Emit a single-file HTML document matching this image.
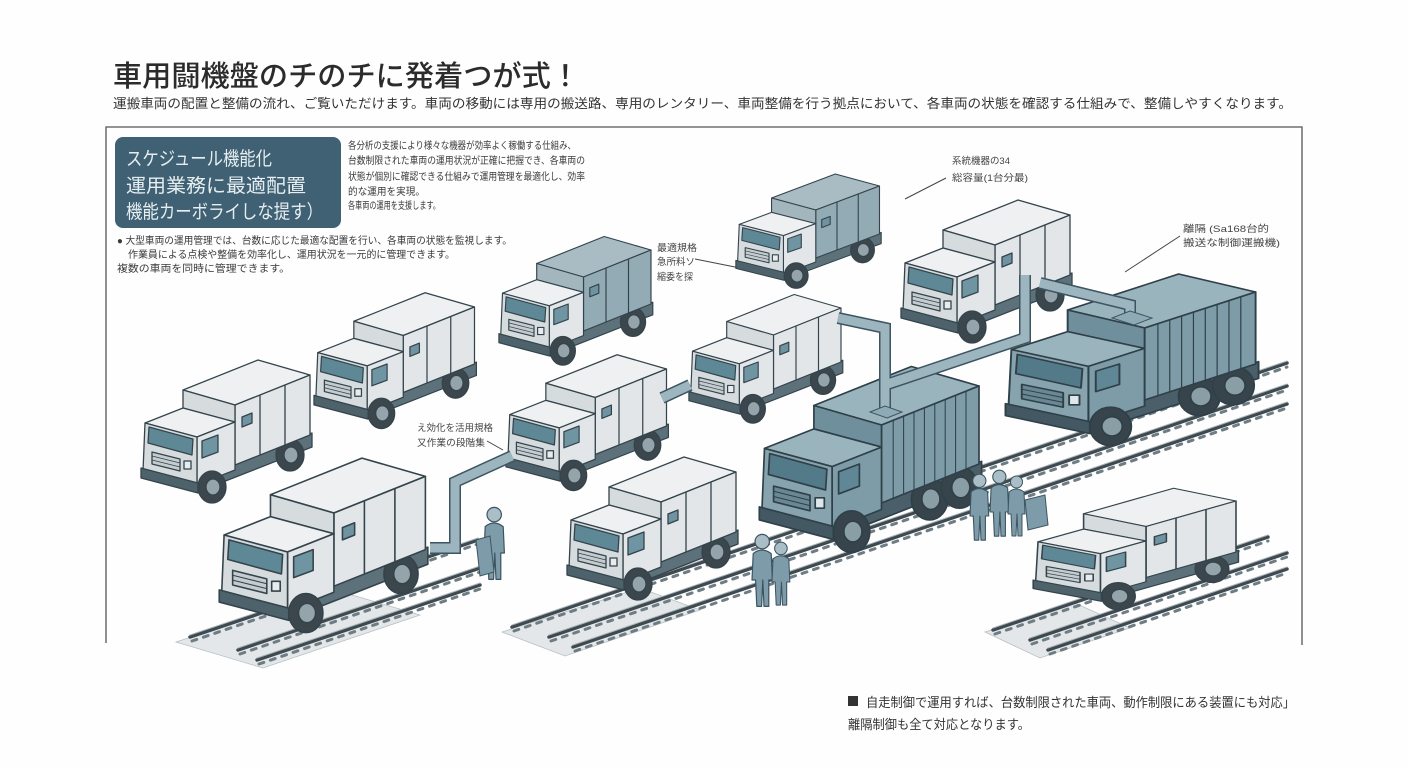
<!DOCTYPE html>
<html><head><meta charset="utf-8"><style>
html,body{margin:0;padding:0;background:#fff;}
svg{display:block;}
text{font-family:"Liberation Sans","Noto Sans CJK JP",sans-serif;}
</style></head><body>
<svg width="1408" height="768" viewBox="0 0 1408 768" xmlns="http://www.w3.org/2000/svg">
<defs>
<symbol id="lt" overflow="visible">
 <g stroke="#34444c" stroke-width="1.3" stroke-linejoin="round">
  <polygon points="60,122 172,78 172,92 60,136" fill="#5d717a"/>
  <ellipse cx="150" cy="100" rx="14" ry="16" fill="#3b464d"/>
  <ellipse cx="151" cy="100" rx="7" ry="8" fill="#95a4ab"/>
  <polygon points="43,35 118,5 170,20 95,50" style="fill:var(--top)"/>
  <polygon points="95,50 170,20 170,80 95,110" style="fill:var(--side)"/>
  <polygon points="43,35 95,50 95,67 43,53" style="fill:var(--front)"/>
  <line x1="120" y1="40" x2="120" y2="100"/>
  <line x1="145" y1="30" x2="145" y2="90"/>
  <polygon points="102,62 112,58 112,68 102,72" fill="#6f93a0"/>
  <polygon points="5,68 43,53 95,67 57,82" fill="#eef0f1"/>
  <polygon points="57,82 95,67 95,115 57,130" fill="#e3e6e8"/>
  <polygon points="5,68 57,82 57,130 3,116" fill="#d6dbde"/>
  <polygon points="9,72 53,84 52,100 8,88" fill="#5f8896"/>
  <polygon points="62,86 78,80 78,97 62,103" fill="#6f95a3"/>
  <polygon points="12,97 40,104 40,116 12,109" fill="#c5ccd0"/>
  <line x1="12" y1="101" x2="40" y2="108" stroke-width="0.8"/>
  <line x1="12" y1="105" x2="40" y2="112" stroke-width="0.8"/>
  <rect x="44" y="106" width="7" height="8" fill="#e8ecee"/>
  <polygon points="1,113 58,128 58,138 1,123" fill="#4d626b"/>
  <ellipse cx="72" cy="132" rx="14" ry="16" fill="#3b464d"/>
  <ellipse cx="73" cy="132" rx="7" ry="8" fill="#95a4ab"/>
 </g>
</symbol>
<symbol id="bt" overflow="visible">
 <g stroke="#2f4049" stroke-width="1.3" stroke-linejoin="round">
  <polygon points="60,122 172,78 172,92 60,136" fill="#4a5f69"/>
  <ellipse cx="132" cy="107" rx="14" ry="16" fill="#38444b"/>
  <ellipse cx="133" cy="107" rx="7" ry="8" fill="#8a9ea6"/>
  <ellipse cx="155" cy="98" rx="14" ry="16" fill="#38444b"/>
  <ellipse cx="156" cy="98" rx="7" ry="8" fill="#8a9ea6"/>
  <polygon points="43,35 118,5 170,20 95,50" fill="#9ab4be"/>
  <polygon points="95,50 170,20 170,80 95,110" fill="#7d9ca8"/>
  <polygon points="43,35 95,50 95,67 43,53" fill="#6f8f9c"/>
  <g stroke-width="0.8">
   <line x1="104" y1="46" x2="104" y2="106"/><line x1="112" y1="43" x2="112" y2="103"/>
   <line x1="120" y1="40" x2="120" y2="100"/><line x1="128" y1="37" x2="128" y2="97"/>
   <line x1="136" y1="34" x2="136" y2="94"/><line x1="144" y1="30" x2="144" y2="90"/>
   <line x1="152" y1="27" x2="152" y2="87"/><line x1="160" y1="24" x2="160" y2="84"/>
  </g>
  <polygon points="5,68 43,53 95,67 57,82" fill="#9ab4be"/>
  <polygon points="57,82 95,67 95,115 57,130" fill="#7d9ca8"/>
  <polygon points="5,68 57,82 57,130 3,116" fill="#87a3ae"/>
  <polygon points="9,72 53,84 52,100 8,88" fill="#527a89"/>
  <polygon points="62,86 78,80 78,97 62,103" fill="#5f8795"/>
  <polygon points="12,97 40,104 40,116 12,109" fill="#6a8894"/>
  <line x1="12" y1="101" x2="40" y2="108" stroke-width="0.8"/>
  <line x1="12" y1="105" x2="40" y2="112" stroke-width="0.8"/>
  <rect x="44" y="106" width="7" height="8" fill="#dfe7ea"/>
  <polygon points="1,113 58,128 58,138 1,123" fill="#435862"/>
  <ellipse cx="72" cy="132" rx="14" ry="16" fill="#38444b"/>
  <ellipse cx="73" cy="132" rx="7" ry="8" fill="#8a9ea6"/>
 </g>
</symbol>
<symbol id="ps" overflow="visible">
 <g stroke="#3d5561" stroke-width="1" fill="#7d9ba8" stroke-linejoin="round">
  <path d="M1,18 Q8,12 16,18 L17,40 L14,40 L14,62 L10,62 L9,40 L8,62 L4,62 L3,40 L0,40 Z"/>
  <circle cx="8.5" cy="8" r="6" fill="#a9bec6"/>
 </g>
</symbol>
</defs>

<rect width="1408" height="768" fill="#fefefe"/>

<!-- header -->
<text x="113" y="86" font-size="29" font-weight="500" fill="#2b2b2b" textLength="467" lengthAdjust="spacingAndGlyphs">車用闘機盤のチのチに発着つが式！</text>
<text x="113" y="108" font-size="13" fill="#333" textLength="1179" lengthAdjust="spacingAndGlyphs">運搬車両の配置と整備の流れ、ご覧いただけます。車両の移動には専用の搬送路、専用のレンタリー、車両整備を行う拠点において、各車両の状態を確認する仕組みで、整備しやすくなります。</text>

<!-- frame -->
<polyline points="106,643 106,127 1302,127 1302,645" fill="none" stroke="#555" stroke-width="1.3"/>

<!-- dark box -->
<rect x="115" y="137" width="226" height="91" rx="8" fill="#3f6173"/>
<text x="126" y="165" font-size="19" fill="#e6eef1" textLength="146" lengthAdjust="spacingAndGlyphs">スケジュール機能化</text>
<text x="126" y="192" font-size="19" fill="#e6eef1" textLength="180" lengthAdjust="spacingAndGlyphs">運用業務に最適配置</text>
<text x="126" y="218" font-size="19" fill="#e6eef1" textLength="197" lengthAdjust="spacingAndGlyphs">機能カーボライしな提す）</text>

<g font-size="10" fill="#3a3a3a">
<text x="348" y="149" textLength="228" lengthAdjust="spacingAndGlyphs">各分析の支援により様々な機器が効率よく稼働する仕組み、</text>
<text x="348" y="164" textLength="237" lengthAdjust="spacingAndGlyphs">台数制限された車両の運用状況が正確に把握でき、各車両の</text>
<text x="348" y="180" textLength="237" lengthAdjust="spacingAndGlyphs">状態が個別に確認できる仕組みで運用管理を最適化し、効率</text>
<text x="348" y="195" textLength="77" lengthAdjust="spacingAndGlyphs">的な運用を実現。</text>
<text x="348" y="209" textLength="92" lengthAdjust="spacingAndGlyphs">各車両の運用を支援します。</text>
<text x="117" y="244" textLength="395" lengthAdjust="spacingAndGlyphs">● 大型車両の運用管理では、台数に応じた最適な配置を行い、各車両の状態を監視します。</text>
<text x="128" y="258" textLength="327" lengthAdjust="spacingAndGlyphs">作業員による点検や整備を効率化し、運用状況を一元的に管理できます。</text>
<text x="117" y="272" textLength="173" lengthAdjust="spacingAndGlyphs">複数の車両を同時に管理できます。</text>
</g>

<!-- labels -->
<g font-size="9.5" fill="#444">
<text x="952" y="164" textLength="58" lengthAdjust="spacingAndGlyphs">系統機器の34</text>
<text x="952" y="181" textLength="76" lengthAdjust="spacingAndGlyphs">総容量(1台分最)</text>
<text x="1183" y="232" textLength="86" lengthAdjust="spacingAndGlyphs">離隔 (Sa168台的</text>
<text x="1183" y="246" textLength="97" lengthAdjust="spacingAndGlyphs">搬送な制御運搬機)</text>
<text x="657" y="251" textLength="40" lengthAdjust="spacingAndGlyphs">最適規格</text>
<text x="657" y="265" textLength="38" lengthAdjust="spacingAndGlyphs">急所料ソ</text>
<text x="657" y="280" textLength="36" lengthAdjust="spacingAndGlyphs">縮委を探</text>
<text x="417" y="431" textLength="76" lengthAdjust="spacingAndGlyphs">え効化を活用規格</text>
<text x="417" y="446" textLength="68" lengthAdjust="spacingAndGlyphs">又作業の段階集</text>
</g>
<g stroke="#444" stroke-width="1" fill="none">
<line x1="946" y1="178" x2="905" y2="199"/>
<line x1="1180" y1="236" x2="1125" y2="272"/>
<line x1="695" y1="259" x2="740" y2="268"/>
<line x1="487" y1="441" x2="503" y2="450"/>
</g>

<!-- bottom note -->
<rect x="848" y="696" width="10" height="10" fill="#333"/>
<text x="866" y="707" font-size="13" fill="#333" textLength="429" lengthAdjust="spacingAndGlyphs">自走制御で運用すれば、台数制限された車両、動作制限にある装置にも対応」</text>
<text x="848" y="729" font-size="13" fill="#333" textLength="182" lengthAdjust="spacingAndGlyphs">離隔制御も全て対応となります。</text>

<!-- ground plates -->
<g fill="#e3e7e9" stroke="#b8c0c4" stroke-width="0.8">
<polygon points="176,642 263,668 420,615 335,590"/>
<polygon points="502,632 565,656 700,610 640,588"/>
<polygon points="985,632 1040,658 1130,628 1075,603"/>
</g>

<!-- rails -->
<g stroke-linecap="round">
 <g stroke="#6e7c84" stroke-width="3" stroke-dasharray="5 7">
  <line x1="192" y1="641" x2="478" y2="544"/>
  <line x1="240" y1="654" x2="480" y2="572"/>
  <line x1="259" y1="664" x2="480" y2="589"/>
  <line x1="514" y1="631" x2="1287" y2="367"/>
  <line x1="551" y1="641" x2="1287" y2="390"/>
  <line x1="575" y1="651" x2="1287" y2="408"/>
  <line x1="995" y1="634" x2="1268" y2="541"/>
  <line x1="1032" y1="644" x2="1287" y2="557"/>
  <line x1="1050" y1="654" x2="1287" y2="573"/>
 </g>
 <g stroke="#3f4a50" stroke-width="3.5">
  <line x1="190" y1="637" x2="478" y2="540"/>
  <line x1="238" y1="650" x2="480" y2="568"/>
  <line x1="257" y1="660" x2="480" y2="585"/>
  <line x1="512" y1="627" x2="1287" y2="363"/>
  <line x1="549" y1="637" x2="1287" y2="386"/>
  <line x1="573" y1="647" x2="1287" y2="404"/>
  <line x1="993" y1="630" x2="1268" y2="537"/>
  <line x1="1030" y1="640" x2="1287" y2="553"/>
  <line x1="1048" y1="650" x2="1287" y2="569"/>
 </g>
 <g stroke="#a9b3b8" stroke-width="1">
  <line x1="190" y1="635" x2="478" y2="538"/>
  <line x1="238" y1="648" x2="480" y2="566"/>
  <line x1="257" y1="658" x2="480" y2="583"/>
  <line x1="512" y1="625" x2="1287" y2="361"/>
  <line x1="549" y1="635" x2="1287" y2="384"/>
  <line x1="573" y1="645" x2="1287" y2="402"/>
  <line x1="993" y1="628" x2="1268" y2="535"/>
  <line x1="1030" y1="638" x2="1287" y2="551"/>
  <line x1="1048" y1="648" x2="1287" y2="567"/>
 </g>
</g>

<!-- trucks back to front -->
<use href="#lt" transform="translate(735,170) scale(0.85,0.8)" style="--top:#a9bcc4;--side:#93abb5;--front:#a3b6be"/>
<use href="#lt" transform="translate(900,195)" style="--top:#eef0f1;--side:#e3e6e8;--front:#d6dbde"/>
<use href="#lt" transform="translate(498,232) scale(0.9)" style="--top:#a9bcc4;--side:#93abb5;--front:#a3b6be"/>
<use href="#lt" transform="translate(313,288) scale(0.95)" style="--top:#eef0f1;--side:#e3e6e8;--front:#d6dbde"/>
<use href="#lt" transform="translate(688,290) scale(0.9)" style="--top:#eef0f1;--side:#e3e6e8;--front:#d6dbde"/>
<use href="#lt" transform="translate(140,355)" style="--top:#eef0f1;--side:#e3e6e8;--front:#d6dbde"/>
<use href="#lt" transform="translate(505,350) scale(0.95)" style="--top:#eef0f1;--side:#e3e6e8;--front:#d6dbde"/>
<use href="#bt" transform="translate(1004,268) scale(1.48,1.2)"/>
<use href="#bt" transform="translate(758,360) scale(1.3)"/>
<use href="#lt" transform="translate(218,452) scale(1.22)" style="--top:#eef0f1;--side:#e3e6e8;--front:#d6dbde"/>
<use href="#lt" transform="translate(566,452)" style="--top:#eef0f1;--side:#e3e6e8;--front:#d6dbde"/>
<use href="#lt" transform="translate(1032,484) scale(1.2,0.85)" style="--top:#eef0f1;--side:#e3e6e8;--front:#d6dbde"/>

<!-- pipes -->
<g fill="none" stroke-linejoin="miter">
 <g stroke="#3d5561" stroke-width="12">
  <polyline points="430,548 455,548 455,482 512,456"/>
  <polyline points="662,398 690,385"/>
  <polyline points="838,318 885,328 885,412"/>
  <polyline points="885,385 1025,338 1025,275"/>
  <polyline points="1040,283 1130,305 1130,318"/>
 </g>
 <g stroke="#9cb5be" stroke-width="9">
  <polyline points="430,548 455,548 455,482 512,456"/>
  <polyline points="662,398 690,385"/>
  <polyline points="838,318 885,328 885,412"/>
  <polyline points="885,385 1025,338 1025,275"/>
  <polyline points="1040,283 1130,305 1130,318"/>
 </g>
</g>
<g fill="#8eaab4" stroke="#3d5561" stroke-width="1">
 <polygon points="870,412 885,406 902,412 887,418"/>
 <polygon points="1112,318 1130,311 1152,318 1134,325"/>
</g>

<!-- people -->
<use href="#ps" transform="translate(484,505) scale(1.2)"/>
<polygon points="476,540 490,536 494,572 480,576" fill="#7d9ba8" stroke="#3d5561"/>
<use href="#ps" transform="translate(752,532) scale(1.2)"/>
<use href="#ps" transform="translate(772,540) scale(1.05)"/>
<use href="#ps" transform="translate(970,472) scale(1.1)"/>
<use href="#ps" transform="translate(990,468) scale(1.1)"/>
<use href="#ps" transform="translate(1008,474) scale(1.0)"/>
<polygon points="1025,500 1045,495 1048,525 1028,530" fill="#7d9ba8" stroke="#3d5561"/>
</svg>
</body></html>
